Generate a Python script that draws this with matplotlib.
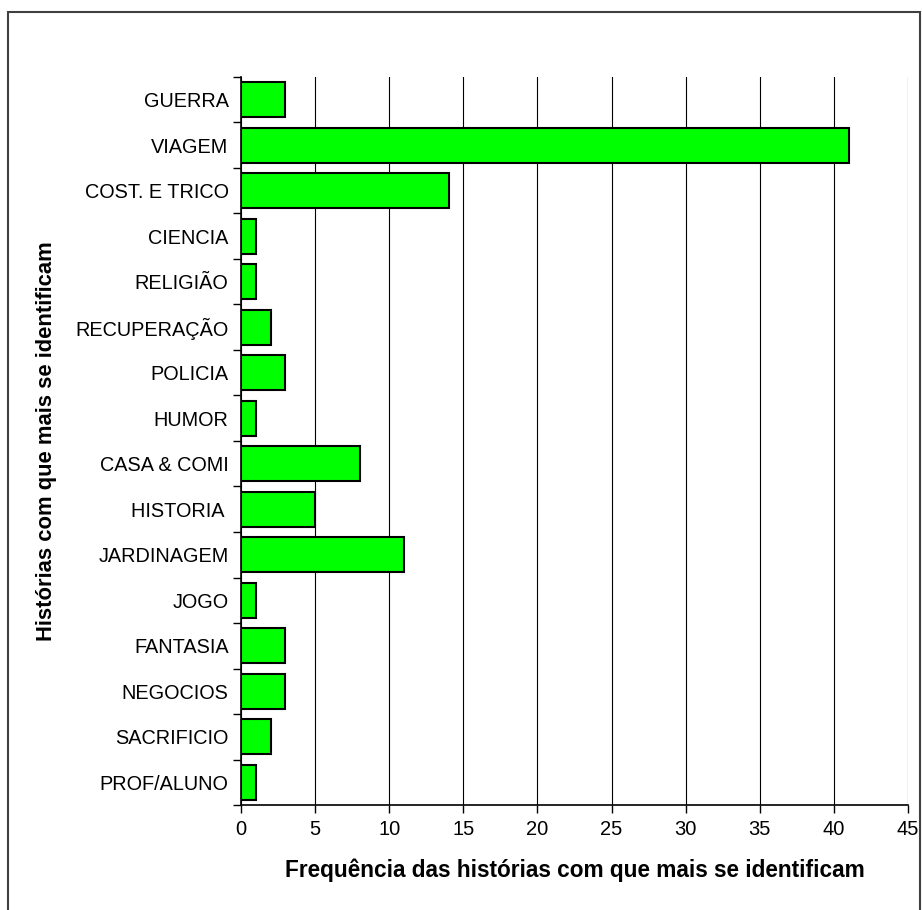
import matplotlib.pyplot as plt
from matplotlib.patches import Rectangle

plt.rcParams['font.family'] = ['Liberation Sans', 'DejaVu Sans']

categories = ['GUERRA', 'VIAGEM', 'COST. E TRICO', 'CIENCIA', 'RELIGIÃO',
              'RECUPERAÇÃO', 'POLICIA', 'HUMOR', 'CASA & COMI', 'HISTORIA ',
              'JARDINAGEM', 'JOGO', 'FANTASIA', 'NEGOCIOS', 'SACRIFICIO',
              'PROF/ALUNO']
values = [3, 41, 14, 1, 1, 2, 3, 1, 8, 5, 11, 1, 3, 3, 2, 1]
x_ticks = list(range(0, 50, 5))

fig = plt.figure(figsize=(9.22, 9.1), dpi=100)
ax = fig.add_axes((241 / 922, (910 - 805) / 910, (908 - 241) / 922, (805 - 77) / 910))

# outer frame like the spreadsheet chart area
fig.patches.append(Rectangle((8 / 922, -0.05), (920 - 8) / 922, 1.05 - 12 / 910,
                             transform=fig.transFigure, fill=False,
                             edgecolor='#404040', linewidth=1.5))

n = len(categories)
pos = list(range(n))
ax.barh(pos, values, height=0.77, color='#00FF00', edgecolor='black',
        linewidth=1.5, zorder=3)

ax.set_xlim(0, 45)
ax.set_ylim(n - 0.5, -0.5)
ax.set_xticks(x_ticks)
ax.set_xticklabels([str(t) for t in x_ticks], fontsize=14.5)
ax.set_yticks(pos)
ax.set_yticklabels(categories, fontsize=14.3)
ax.set_yticks([i - 0.5 for i in range(n + 1)], minor=True)
ax.tick_params(axis='y', which='major', length=0, pad=9)
ax.tick_params(axis='y', which='minor', length=6, width=1)
ax.tick_params(axis='x', length=6, width=1, pad=5)

ax.grid(axis='x', color='black', linewidth=0.8, zorder=0)
for s in ['top', 'right']:
    ax.spines[s].set_visible(False)
ax.spines['left'].set_linewidth(1.2)
ax.spines['bottom'].set_linewidth(1.2)

ax.set_xlabel('Frequência das histórias com que mais se identificam',
              fontsize=16.3, fontweight='bold', labelpad=14)
ax.set_ylabel('Histórias com que mais se identificam',
              fontsize=15.8, fontweight='bold', labelpad=13)

fig.savefig('out.png', dpi=100)
